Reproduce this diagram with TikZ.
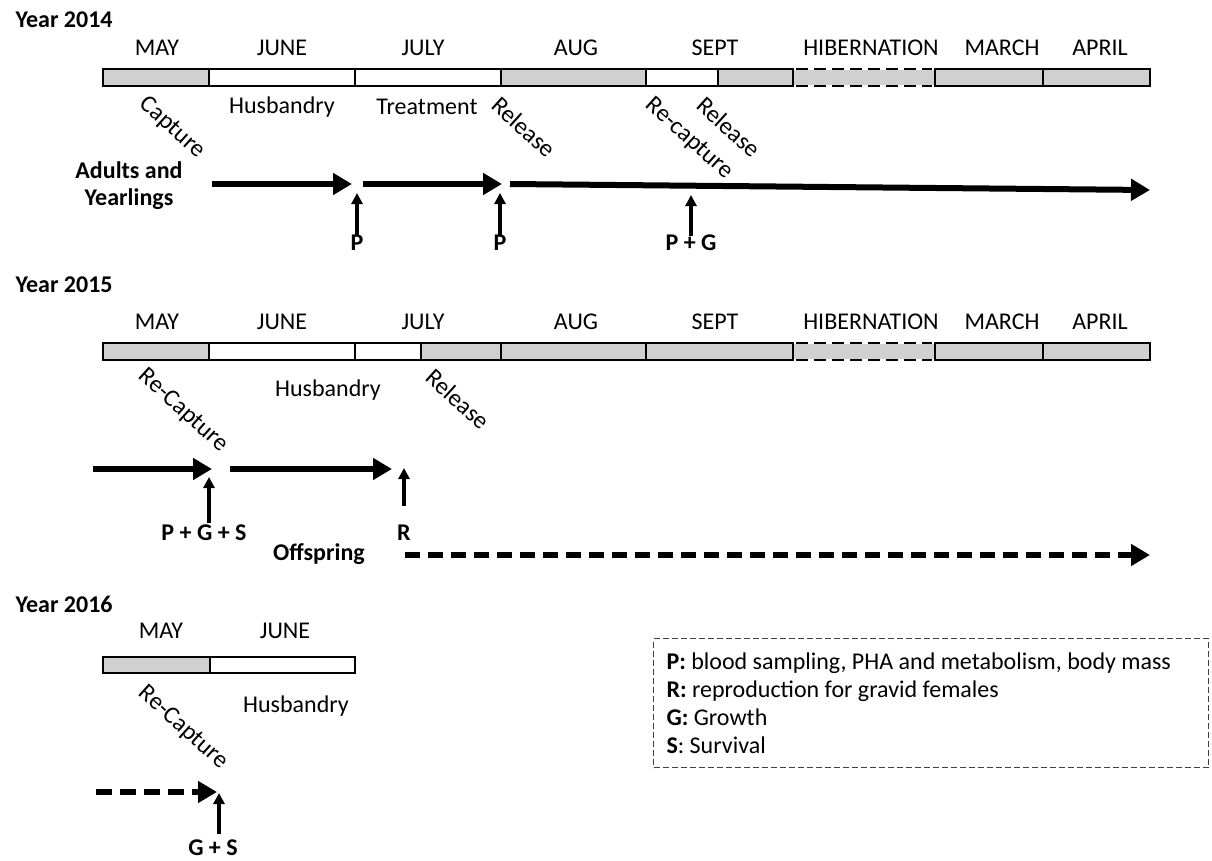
\documentclass[tikz,border=0pt]{standalone}
\usepackage{fontspec}
\setmainfont{Carlito}
\usetikzlibrary{arrows.meta}
\definecolor{barGrey}{RGB}{208,208,208}
\tikzset{
  year/.style={font=\bfseries\fontsize{24}{29}\selectfont, anchor=west},
  month/.style={font=\fontsize{24}{29}\selectfont},
  task/.style={font=\fontsize{24}{29}\selectfont},
  event/.style={font=\fontsize{24.5}{29}\selectfont, rotate=-42, anchor=west},
  measure/.style={font=\bfseries\fontsize{24}{29}\selectfont},
  group/.style={font=\bfseries\fontsize{24}{27}\selectfont, align=center},
  segment/.style={draw, line width=2pt},
  hibline/.style={line width=2pt, dash pattern=on 12pt off 6pt},
  period/.style={-{Triangle[length=19pt,width=21pt]}, line width=6pt},
  probe/.style={-{Triangle[length=11pt,width=11pt]}, line width=3.5pt},
  legend/.style={draw=black!75, line width=1pt, dash pattern=on 6pt off 3pt,
    align=flush left, text width=529pt, minimum height=129pt, inner xsep=13pt,
    inner ysep=4pt, font=\fontsize{24}{28}\selectfont}
}
\begin{document}
\begin{tikzpicture}[x=1pt, y=-1pt]
  \useasboundingbox (0,0) rectangle (1212,860);

  % Year 2014
  \node[year] (y14) at (12,20) {Year 2014};
  \foreach \x/\m [count=\i] in {157/MAY, 282/JUNE, 423/JULY, 576/AUG, 715/SEPT, 871/HIBERNATION, 1002/MARCH, 1100/APRIL}
    \node[month] (m14-\i) at (\x,48) {\m};
  \fill[barGrey] (793,70) rectangle (935,85);
  \draw[hibline] (796,69) -- (932,69) (796,86) -- (932,86);
  \foreach \a/\b/\c in {103/209/barGrey, 209/355/white, 355/501/white, 501/646/barGrey, 646/718/white, 718/793/barGrey, 935/1043/barGrey, 1043/1150/barGrey}
    \draw[segment, fill=\c] (\a,69) rectangle (\b,86);
  \node[task] (hus14) at (282,107) {Husbandry};
  \node[task] (trt14) at (427,107) {Treatment};
  \node[event] (cap14) at (140,99) {Capture};
  \node[event] (rel14a) at (493,99) {Release};
  \node[event] (rec14) at (646,100) {Re-capture};
  \node[event] (rel14b) at (698,99) {Release};
  \node[group] (adults) at (129,186) {Adults and\\Yearlings};

  \coordinate (a14-0) at (212,184);
  \coordinate (a14-1) at (352,184);
  \coordinate (a14-2) at (363,184);
  \coordinate (a14-3) at (502,184);
  \coordinate (a14-4) at (510,184);
  \coordinate (a14-5) at (1150,190);
  \draw[period] (a14-0) -- (a14-1);
  \draw[period] (a14-2) -- (a14-3);
  \draw[period] (a14-4) -- (a14-5);

  \node[measure] (p14-1) at (357,243) {P};
  \node[measure] (p14-2) at (500,243) {P};
  \node[measure] (p14-3) at (691,243) {P + G};
  \coordinate (t14-1) at (357,193);
  \coordinate (t14-2) at (500,193);
  \coordinate (t14-3) at (691,195);
  \draw[probe, shorten <=-4pt] (p14-1) -- (t14-1);
  \draw[probe, shorten <=-4pt] (p14-2) -- (t14-2);
  \draw[probe, shorten <=-4pt] (p14-3) -- (t14-3);

  % Year 2015
  \node[year] (y15) at (12,285) {Year 2015};
  \foreach \x/\m [count=\i] in {157/MAY, 282/JUNE, 423/JULY, 576/AUG, 715/SEPT, 871/HIBERNATION, 1002/MARCH, 1100/APRIL}
    \node[month] (m15-\i) at (\x,322) {\m};
  \fill[barGrey] (793,344) rectangle (935,359);
  \draw[hibline] (796,343) -- (932,343) (796,360) -- (932,360);
  \foreach \a/\b/\c in {103/209/barGrey, 209/355/white, 355/421/white, 421/501/barGrey, 501/646/barGrey, 646/793/barGrey, 935/1043/barGrey, 1043/1150/barGrey}
    \draw[segment, fill=\c] (\a,343) rectangle (\b,360);
  \node[task] (hus15) at (328,390) {Husbandry};
  \node[event] (rec15) at (139,371) {Re-Capture};
  \node[event] (rel15) at (427,371) {Release};

  \coordinate (a15-0) at (93,469);
  \coordinate (a15-1) at (212,469);
  \coordinate (a15-2) at (230,469);
  \coordinate (a15-3) at (392,469);
  \draw[period] (a15-0) -- (a15-1);
  \draw[period] (a15-2) -- (a15-3);

  \node[measure] (p15-1) at (204,533) {P + G + S};
  \node[measure] (p15-2) at (404,533) {R};
  \coordinate (t15-1) at (209,477);
  \coordinate (t15-2) at (404,468);
  \draw[probe, shorten <=10pt] (p15-1.center -| t15-1) -- (t15-1);
  \draw[probe, shorten <=16pt] (p15-2) -- (t15-2);

  \node[group] (offs) at (319,554) {Offspring};
  \coordinate (o15-0) at (405,555);
  \coordinate (o15-1) at (1150,555);
  \draw[period, dash pattern=on 15pt off 8pt] (o15-0) -- (o15-1);

  % Year 2016
  \node[year] (y16) at (12,604) {Year 2016};
  \node[month] (m16-1) at (161,631) {MAY};
  \node[month] (m16-2) at (285,631) {JUNE};
  \draw[segment, fill=barGrey] (103,657) rectangle (210,673);
  \draw[segment, fill=white] (210,657) rectangle (355,673);
  \node[task] (hus16) at (296,706) {Husbandry};
  \node[event] (rec16) at (139,688) {Re-Capture};

  \coordinate (a16-0) at (96,792);
  \coordinate (a16-1) at (217,792);
  \draw[period, dash pattern=on 16pt off 8pt] (a16-0) -- (a16-1);
  \node[measure, inner ysep=1pt] (p16-1) at (213,848) {G + S};
  \coordinate (t16-1) at (219,793);
  \draw[probe, shorten <=14pt] (p16-1.center -| t16-1) -- (t16-1);

  % legend
  \node[legend, anchor=north west] (key) at (653,638) {\textbf{P:} blood sampling, PHA and metabolism, body mass\\
    \textbf{R:} reproduction for gravid females\\
    \textbf{G:} Growth\\
    \textbf{S}: Survival};
\end{tikzpicture}
\end{document}
